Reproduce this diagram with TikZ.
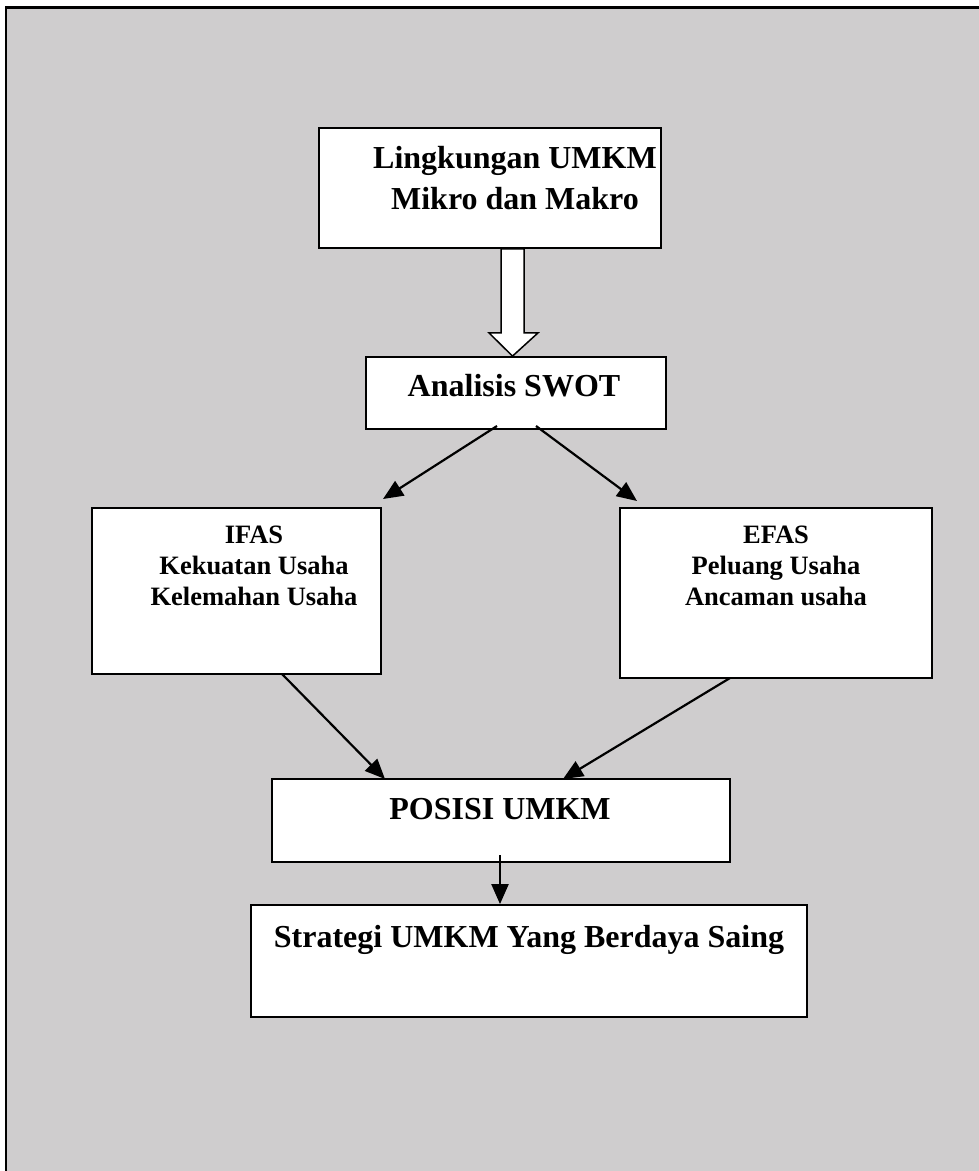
\documentclass[tikz,border=0pt]{standalone}
\usepackage{fontspec}
\setmainfont{Liberation Serif}
\usetikzlibrary{arrows.meta,calc}
\definecolor{bggray}{HTML}{CFCDCE}
\begin{document}
\begin{tikzpicture}[x=1pt,y=-1pt,
  boxnode/.style={draw=black,line width=1.8pt,fill=white,inner sep=0pt,rectangle},
  bigtext/.style={font=\bfseries\fontsize{32}{41}\selectfont,align=center,inner sep=0pt},
  smalltext/.style={font=\bfseries\fontsize{26.5}{31}\selectfont,align=center,inner sep=0pt},
  arr/.style={line width=2.2pt,-{Triangle[length=20pt,width=17pt]}}]
\useasboundingbox (0,0) rectangle (979,1171);
% frame
\draw[line width=2.5pt,fill=bggray] (6,7.7) rectangle (1000,1200);
% boxes
\node[boxnode,minimum width=342pt,minimum height=120pt] (b1) at (490,188) {};
\node[boxnode,minimum width=300pt,minimum height=72pt] (b2) at (516,393) {};
\node[boxnode,minimum width=289pt,minimum height=166pt] (ifas) at (236.5,591) {};
\node[boxnode,minimum width=312pt,minimum height=170pt] (efas) at (776,593) {};
\node[boxnode,minimum width=458pt,minimum height=83pt] (pos) at (501,820.5) {};
\node[boxnode,minimum width=556pt,minimum height=112pt] (str) at (529,961) {};
% texts
\node[bigtext] (t1) at (515,178) {Lingkungan UMKM\\Mikro dan Makro};
\node[bigtext] (t2) at (514,386) {Analisis SWOT};
\node[smalltext] (t3) at (254,566) {IFAS\\Kekuatan Usaha\\ Kelemahan Usaha};
\node[smalltext] (t4) at (776,566) {EFAS\\Peluang Usaha\\Ancaman usaha};
\node[bigtext] (t5) at (500,809) {POSISI UMKM};
\node[bigtext] (t6) at (529,940) {Strategi UMKM Yang Berdaya Saing};
% hollow arrow from b1 to b2
\draw[line width=1.5pt,fill=white]
  ($(b1.south)+(11,0)$) -- ++(0,84) -- ++(-12,0) -- ($(b2.north)+(-3.5,0)$)
  -- ($(b1.south)+(48,84)$) -- ++(-14,0) -- ($(b1.south)+(34,0)$) -- cycle;
% connectors
\coordinate (s1) at (497,426);
\coordinate (e1) at (383,499);
\coordinate (s2) at (536,426);
\coordinate (e2) at (637,501);
\coordinate (s3) at (282,674);
\coordinate (e3) at (385,779);
\coordinate (s4) at (730,678);
\coordinate (e4) at (563,779);
\coordinate (s5) at (500,855);
\draw[arr] (s1) -- (e1);
\draw[arr] (s2) -- (e2);
\draw[arr] (s3) -- (e3);
\draw[arr] (s4) -- (e4);
\draw[arr] (s5) -- (s5 |- str.north);
\end{tikzpicture}
\end{document}
